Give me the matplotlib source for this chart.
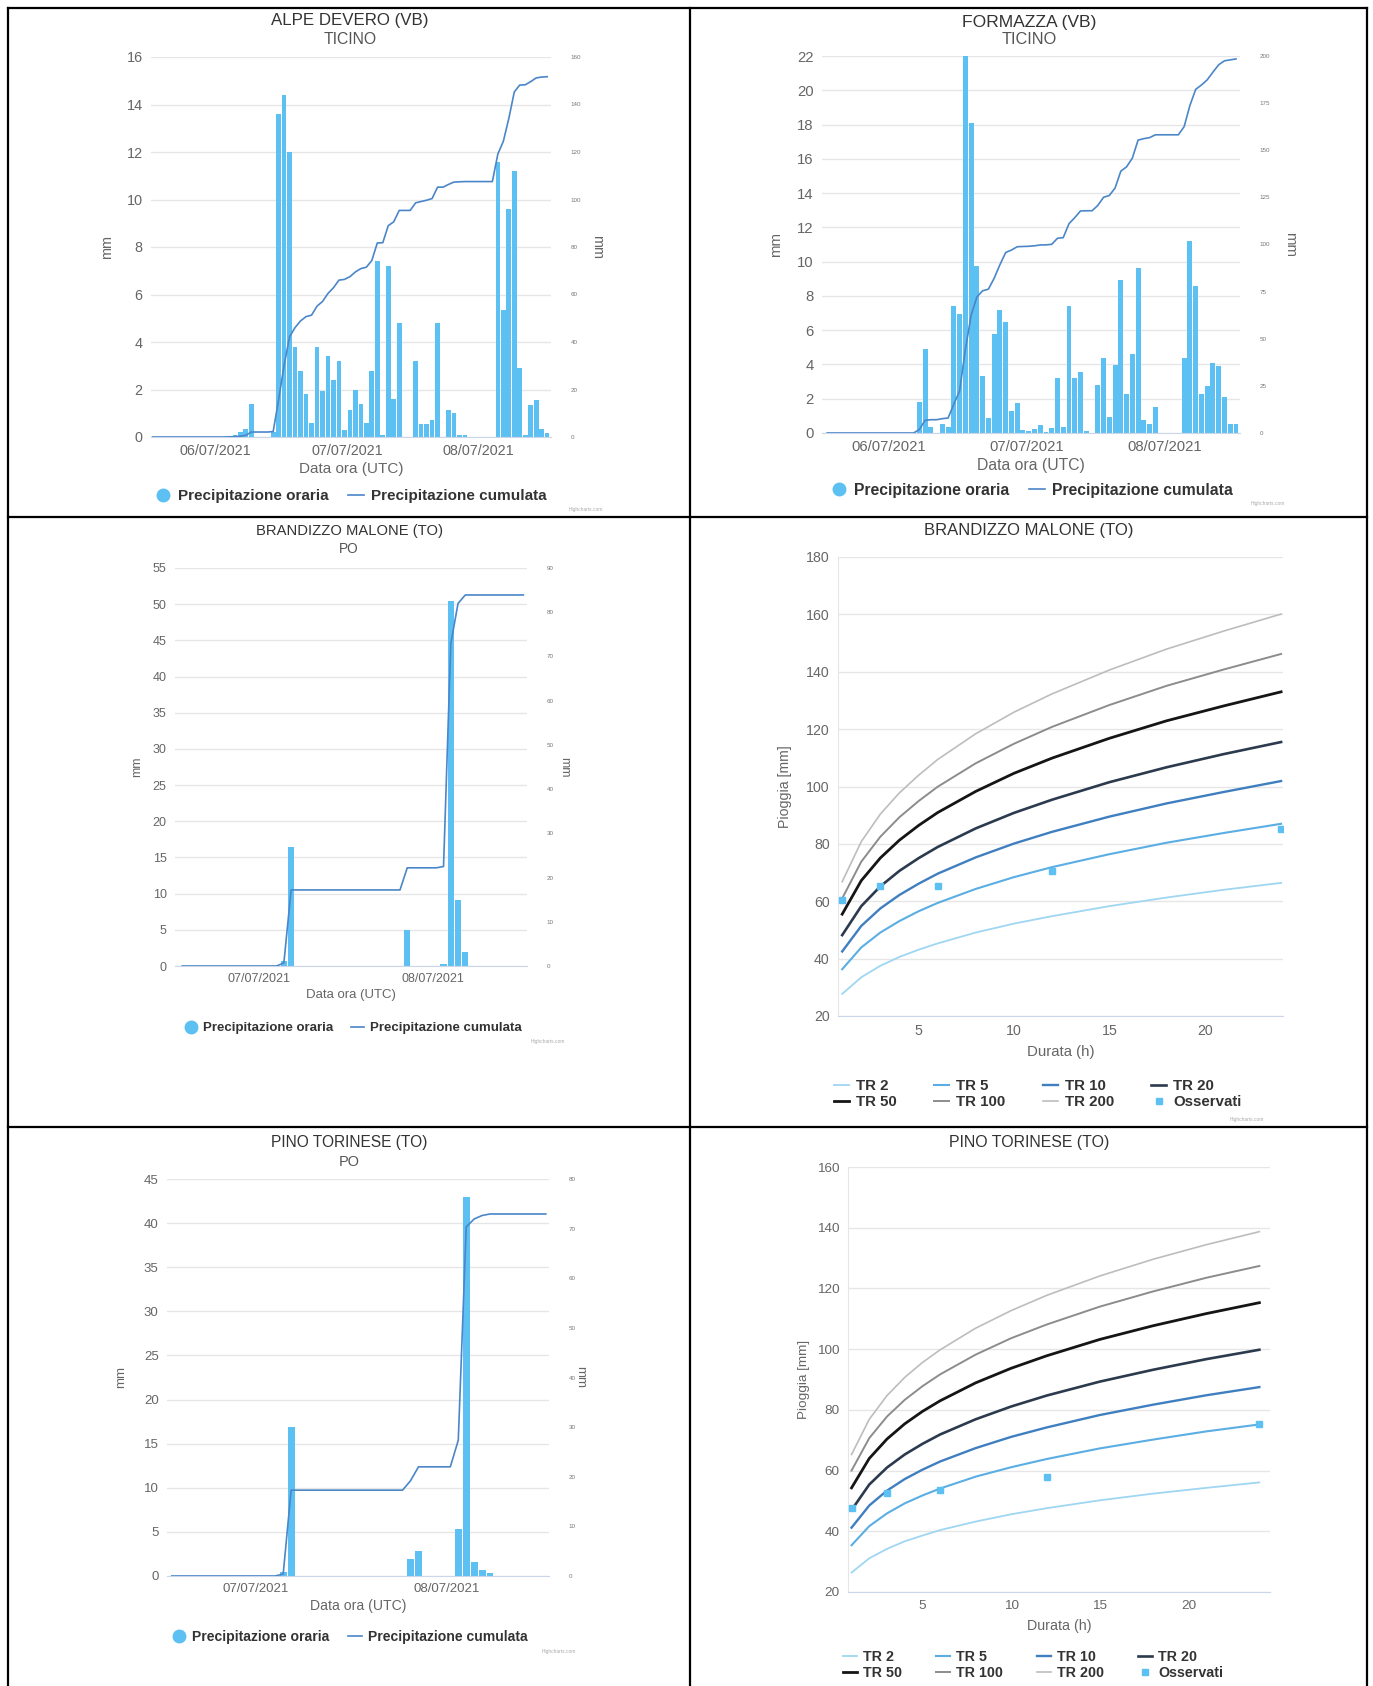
import numpy as np
import matplotlib
matplotlib.use("Agg")
import matplotlib.pyplot as plt
from matplotlib.lines import Line2D

plt.rcParams['font.family'] = ['Liberation Sans', 'DejaVu Sans']

# ---------------- DATA ----------------
# hourly precipitation (mm); hour 0 = first labelled day at 00 UTC
alpe_start = -12
alpe_orario = [0]*14 + [0.05, 0.1, 0.2, 0.35, 1.4, 0, 0, 0, 0.2,
               13.6, 14.4, 12.0, 3.8, 2.8, 1.8, 0.6, 3.8, 1.95, 3.4, 2.4, 3.2, 0.3,
               1.15, 2.0, 1.4, 0.6, 2.8, 7.4, 0.1, 7.2, 1.6, 4.8, 0, 0,
               3.2, 0.55, 0.55, 0.7, 4.8, 0, 1.15, 1.0, 0.1, 0.1, 0, 0, 0, 0, 0,
               11.6, 5.35, 9.6, 11.2, 2.9, 0.1, 1.35, 1.55, 0.35, 0.15]
alpe_days = ["06/07/2021", "07/07/2021", "08/07/2021"]

formazza_start = -11
formazza_orario = [0]*16 + [1.8, 4.9, 0.35, 0, 0.55, 0.35,
                   7.4, 6.95, 22.0, 18.1, 9.75, 3.3, 0.85, 5.8, 7.15, 6.5, 1.3, 1.75,
                   0.15, 0.1, 0.25, 0.45, 0.05, 0.3, 3.2, 0.35, 7.4, 3.2, 3.55, 0.1, 0,
                   2.8, 4.35, 0.95, 3.95, 8.95, 2.3, 4.6, 9.6, 0.75, 0.55, 1.5, 0, 0, 0, 0,
                   4.35, 11.2, 8.55, 2.3, 2.75, 4.1, 3.9, 2.1, 0.5, 0.5]
formazza_days = ["06/07/2021", "07/07/2021", "08/07/2021"]

brandizzo_start = -11
brandizzo_orario = [0]*14 + [0.7, 16.5] + [0]*15 + [5.0] + [0]*4 + [0.3, 50.4, 9.1, 1.9] + [0]*8
brandizzo_days = ["07/07/2021", "08/07/2021"]

pino_start = -11
pino_orario = [0]*14 + [0.4, 16.9] + [0]*14 + [1.9, 2.8] + [0]*4 + [5.35, 43.0, 1.6, 0.7, 0.3] + [0]*7
pino_days = ["07/07/2021", "08/07/2021"]

# IDF curves (rain depth mm vs duration h)
durate = [1, 2, 3, 4, 5, 6, 8, 10, 12, 15, 18, 21, 24]
tr_labels = ["TR 2", "TR 5", "TR 10", "TR 20", "TR 50", "TR 100", "TR 200"]
brandizzo_tr = [
    [27.7, 33.5, 37.5, 40.6, 43.1, 45.3, 49.1, 52.2, 54.8, 58.3, 61.3, 64.0, 66.4],
    [36.3, 43.9, 49.1, 53.1, 56.5, 59.4, 64.3, 68.4, 71.9, 76.4, 80.4, 83.8, 87.0],
    [42.5, 51.4, 57.5, 62.2, 66.1, 69.6, 75.3, 80.1, 84.2, 89.5, 94.1, 98.1, 101.9],
    [48.2, 58.3, 65.2, 70.6, 75.0, 78.9, 85.4, 90.8, 95.4, 101.5, 106.7, 111.3, 115.5],
    [55.5, 67.2, 75.1, 81.3, 86.4, 90.9, 98.3, 104.6, 109.9, 116.8, 122.9, 128.1, 133.0],
    [61.0, 73.8, 82.5, 89.3, 94.9, 99.9, 108.1, 114.9, 120.8, 128.4, 135.1, 140.8, 146.2],
    [66.8, 80.8, 90.4, 97.8, 103.9, 109.4, 118.4, 125.9, 132.3, 140.6, 147.9, 154.2, 160.1],
]
brandizzo_oss_d = [1, 3, 6, 12, 24]
brandizzo_oss_v = [60.5, 65.3, 65.3, 70.5, 85.3]

pino_tr = [
    [26.4, 31.1, 34.2, 36.7, 38.6, 40.4, 43.2, 45.6, 47.6, 50.2, 52.4, 54.3, 56.1],
    [35.4, 41.7, 45.9, 49.2, 51.8, 54.1, 58.0, 61.1, 63.8, 67.3, 70.2, 72.9, 75.2],
    [41.2, 48.5, 53.4, 57.2, 60.3, 63.0, 67.4, 71.1, 74.2, 78.3, 81.7, 84.8, 87.5],
    [47.0, 55.4, 61.0, 65.3, 68.8, 71.9, 76.9, 81.1, 84.7, 89.3, 93.2, 96.7, 99.8],
    [54.3, 64.0, 70.4, 75.4, 79.5, 83.0, 88.9, 93.7, 97.8, 103.2, 107.7, 111.7, 115.3],
    [60.0, 70.7, 77.8, 83.3, 87.8, 91.7, 98.2, 103.6, 108.1, 114.0, 119.0, 123.5, 127.4],
    [65.3, 76.9, 84.7, 90.7, 95.6, 99.8, 106.9, 112.7, 117.7, 124.1, 129.6, 134.4, 138.7],
]
pino_oss_d = [1, 3, 6, 12, 24]
pino_oss_v = [47.8, 52.7, 53.6, 58.0, 75.3]

# ---------------- STYLE ----------------
W, H = 1373, 1686
BAR_C = '#5cc0f2'
LINE_C = '#4a86c8'
GRID_C = '#e6e6e6'
TICK_C = '#666666'
TITLE_C = '#333333'
TR_COLORS = ['#9fd6f2', '#5aaee3', '#3f7fc0', '#2c3a4e', '#151515', '#8c8c8c', '#bdbdbd']
TR_LW = [1.3, 1.5, 1.7, 1.9, 2.0, 1.4, 1.2]

fig = plt.figure(figsize=(W/100, H/100), dpi=100)
fig.patch.set_facecolor('white')


def rect(l, t, r, b):
    return [l/W, 1 - b/H, (r - l)/W, (b - t)/H]


def ftext(x, y, s, **kw):
    fig.text(x/W, 1 - y/H, s, **kw)


def bar_panel(box, start, vals, left_max, left_step, right_max, right_step,
              xlim, tick_off, days, title, subtitle, title_x, title_y, sub_y,
              ylab_l_x, ylab_r_x, leg_x, leg_y, credit_xy, fs):
    ax = fig.add_axes(rect(*box))
    hours = np.arange(start, start + len(vals))
    ax.bar(hours, vals, width=0.85, color=BAR_C, zorder=2)
    ax.set_xlim(*xlim)
    ax.set_ylim(0, left_max)
    ax.set_yticks(np.arange(0, left_max + 0.01, left_step))
    ax.yaxis.grid(True, color=GRID_C, lw=1, zorder=0)
    ax.set_axisbelow(True)
    ax.set_xticks([tick_off + 24*i for i in range(len(days))])
    ax.set_xticklabels(days)
    ax.tick_params(axis='both', length=0, colors=TICK_C, labelsize=8.5*fs)
    ax.tick_params(axis='x', pad=5)
    ax.tick_params(axis='y', pad=6)
    for s in ['top', 'right', 'left']:
        ax.spines[s].set_visible(False)
    ax.spines['bottom'].set_color('#ccd6eb')
    ax.set_xlabel("Data ora (UTC)", color=TICK_C, fontsize=9*fs, labelpad=3)
    ax2 = ax.twinx()
    ax2.plot(hours, np.cumsum(vals), color=LINE_C, lw=1.2, zorder=3)
    ax2.set_ylim(0, right_max)
    ax2.set_yticks(np.arange(0, right_max + 0.01, right_step))
    ax2.tick_params(axis='y', length=0, colors='#777777', labelsize=4.5, pad=14)
    for s in ['top', 'right', 'left', 'bottom']:
        ax2.spines[s].set_visible(False)
    l, t, r, b = box
    ftext(title_x, title_y, title, ha='center', va='center', fontsize=10*fs, color=TITLE_C)
    ftext(title_x, sub_y, subtitle, ha='center', va='center', fontsize=9.3*fs, color='#555555')
    ftext(ylab_l_x, (t + b)/2, "mm", rotation=90, ha='center', va='center', fontsize=8.5*fs, color=TICK_C)
    ftext(ylab_r_x, (t + b)/2, "mm", rotation=270, ha='center', va='center', fontsize=8.5*fs, color=TICK_C)
    handles = [Line2D([], [], marker='o', ls='none', color=BAR_C, markersize=9),
               Line2D([], [], color=LINE_C, lw=1.2)]
    leg = ax.legend(handles, ["Precipitazione oraria", "Precipitazione cumulata"],
                    loc='center', bbox_to_anchor=(leg_x/W, 1 - leg_y/H),
                    bbox_transform=fig.transFigure, ncol=2, frameon=False,
                    handlelength=1.0, handletextpad=0.45, columnspacing=1.3,
                    prop={'weight': 'bold', 'size': 9*fs})
    for tx in leg.get_texts():
        tx.set_color(TITLE_C)
    ftext(credit_xy[0], credit_xy[1], "Highcharts.com", ha='center', va='center',
          fontsize=3.5, color='#aaaaaa')


def idf_panel(box, tr_vals, oss_d, oss_v, ymax, xlim, title, title_x, title_y,
              ylab_x, leg_y, leg_cx, colsp, fs, credit_xy=None):
    ax = fig.add_axes(rect(*box))
    for vals, c, lw, lab in zip(tr_vals, TR_COLORS, TR_LW, tr_labels):
        ax.plot(durate, vals, color=c, lw=lw, label=lab, zorder=2)
    ax.plot(oss_d, oss_v, marker='s', ls='none', color=BAR_C, markersize=4,
            label="Osservati", zorder=3)
    ax.set_xlim(*xlim)
    ax.set_ylim(20, ymax)
    ax.set_yticks(np.arange(20, ymax + 0.01, 20))
    ax.set_xticks([5, 10, 15, 20])
    ax.yaxis.grid(True, color=GRID_C, lw=1, zorder=0)
    ax.set_axisbelow(True)
    ax.tick_params(axis='both', length=0, colors=TICK_C, labelsize=8.5*fs)
    ax.tick_params(axis='x', pad=6)
    ax.tick_params(axis='y', pad=6)
    for s in ['top', 'right']:
        ax.spines[s].set_visible(False)
    ax.spines['bottom'].set_color('#ccd6eb')
    ax.spines['left'].set_color('#e6e6e6')
    ax.set_xlabel("Durata (h)", color=TICK_C, fontsize=9*fs, labelpad=5)
    l, t, r, b = box
    ftext(title_x, title_y, title, ha='center', va='center', fontsize=10*fs, color=TITLE_C)
    ftext(ylab_x, (t + b)/2, "Pioggia [mm]", rotation=90, ha='center', va='center',
          fontsize=8.5*fs, color=TICK_C)
    h, lb = ax.get_legend_handles_labels()
    order = [0, 4, 1, 5, 2, 6, 3, 7]
    leg = ax.legend([h[i] for i in order], [lb[i] for i in order],
                    loc='center', bbox_to_anchor=(leg_cx/W, 1 - leg_y/H),
                    bbox_transform=fig.transFigure, ncol=4, frameon=False,
                    handlelength=1.0, handletextpad=0.45, columnspacing=colsp,
                    labelspacing=0.1, prop={'weight': 'bold', 'size': 9*fs})
    for tx in leg.get_texts():
        tx.set_color(TITLE_C)
    if credit_xy:
        ftext(credit_xy[0], credit_xy[1], "Highcharts.com", ha='center', va='center',
              fontsize=3.5, color='#aaaaaa')


bar_panel((151, 57, 551, 437), alpe_start, alpe_orario, 16, 2, 160, 20,
          (-12.3, 60.7), -0.5, alpe_days, "ALPE DEVERO (VB)", "TICINO", 350, 20, 39,
          107, 597, 351, 496, (586, 510), 1.22)
bar_panel((822, 56, 1240, 433), formazza_start, formazza_orario, 22, 2, 200, 25,
          (-11.9, 60.7), -0.35, formazza_days, "FORMAZZA (VB)", "TICINO", 1029, 22, 40,
          776, 1290, 1032, 490, (1268, 504), 1.26)
bar_panel((175, 568, 527, 966), brandizzo_start, brandizzo_orario, 55, 5, 90, 10,
          (-12.0, 36.5), -0.45, brandizzo_days, "BRANDIZZO MALONE (TO)", "PO", 349, 531, 549,
          137, 564, 353, 1028, (548, 1042), 1.06)
bar_panel((167, 1179, 549, 1576), pino_start, pino_orario, 45, 5, 80, 10,
          (-11.6, 36.4), -0.4, pino_days, "PINO TORINESE (TO)", "PO", 349, 1143, 1162,
          121, 580, 350, 1637, (559, 1652), 1.12)

idf_panel((838, 557, 1283, 1016), brandizzo_tr, brandizzo_oss_d, brandizzo_oss_v, 180,
          (0.78, 24.1), "BRANDIZZO MALONE (TO)", 1029, 531, 785, 1094, 1038, 2.5, 1.2,
          (1247, 1120))
idf_panel((848, 1167, 1270, 1592), pino_tr, pino_oss_d, pino_oss_v, 160,
          (0.8, 24.6), "PINO TORINESE (TO)", 1029, 1143, 804, 1665, 1033, 2.35, 1.14)

# table borders
def hline(x1, x2, y):
    fig.add_artist(Line2D([x1/W, x2/W], [1 - y/H, 1 - y/H], transform=fig.transFigure,
                          color='black', lw=1.6))

def vline(x, y1, y2):
    fig.add_artist(Line2D([x/W, x/W], [1 - y1/H, 1 - y2/H], transform=fig.transFigure,
                          color='black', lw=1.6))

for yy in (8, 517, 1127):
    hline(8, 1367, yy)
for xx in (8, 690, 1367):
    vline(xx, 8, 1686)

fig.savefig("out.png", dpi=100, facecolor='white')
